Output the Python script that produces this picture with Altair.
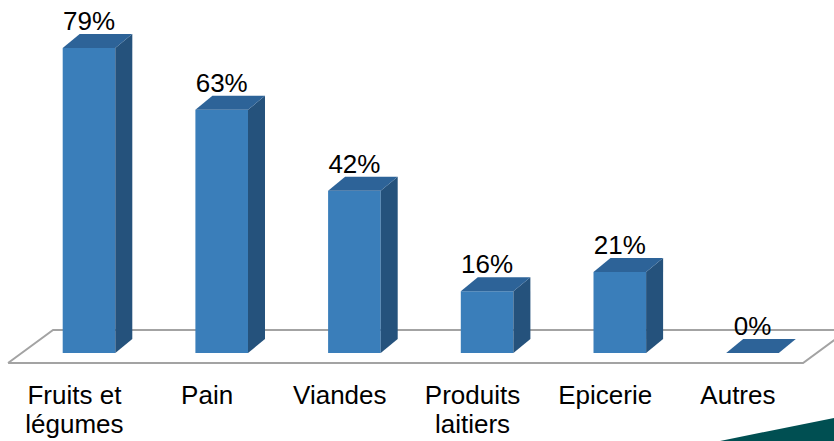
import altair as alt
import pandas as pd

# ---- data ----
categories = ["Fruits et\nlégumes", "Pain", "Viandes", "Produits\nlaitiers", "Epicerie", "Autres"]
values = [79, 63, 42, 16, 21, 0]
value_labels = ["79%", "63%", "42%", "16%", "21%", "0%"]

# ---- geometry (scale units) ----
W, H = 834, 441
PX_PER_CAT = 132.7
PX_PER_PCT = 305 / 79
X0 = 89.0      # pixel of first category's front centre
BASE = 353.0   # pixel of 0 %
x_domain = [-X0 / PX_PER_CAT, (W - X0) / PX_PER_CAT]
y_domain = [-(H - BASE) / PX_PER_PCT, BASE / PX_PER_PCT]

half = 26.3 / PX_PER_CAT
dx = 17 / PX_PER_CAT
dy = 14 / PX_PER_PCT

FRONT = "#3A7EBA"
SIDE = "#25527C"
TOP = "#2D6398"

xs = alt.Scale(domain=x_domain, nice=False, zero=False)
ys = alt.Scale(domain=y_domain, nice=False, zero=False)

front_rows, side_rows, top_rows, lab_rows = [], [], [], []
for i, (c, v, lbl) in enumerate(zip(categories, values, value_labels)):
    front_rows.append({"cat": c, "x": i - half, "x2": i + half, "y": 0, "y2": v})
    side_rows.append({"cat": c, "x": i + half, "y": 0, "y2": v})
    side_rows.append({"cat": c, "x": i + half + dx, "y": dy, "y2": v + dy})
    top_rows.append({"cat": c, "y": v, "x": i - half, "x2": i + half})
    top_rows.append({"cat": c, "y": v + dy, "x": i - half + dx, "x2": i + half + dx})
    lab_rows.append({"cat": c, "i": i, "v": v, "label": lbl})

front_df = pd.DataFrame(front_rows)
side_df = pd.DataFrame(side_rows)
top_df = pd.DataFrame(top_rows)
lab_df = pd.DataFrame(lab_rows)

# floor parallelogram (front edge below bars, back edge behind)
f_front = -10 / PX_PER_PCT
f_back = 23 / PX_PER_PCT
fl = -0.610
fr = 5.381
shift = 45 / PX_PER_CAT
floor_df = pd.DataFrame({
    "x": [fl, fr, fr + shift, fl + shift, fl],
    "y": [f_front, f_front, f_back, f_back, f_front],
    "o": [0, 1, 2, 3, 4],
})

# decorative slide triangle bottom-right
tri_df = pd.DataFrame({
    "x": [(720 - X0) / PX_PER_CAT, x_domain[1]],
    "y": [y_domain[0], y_domain[0]],
    "y2": [y_domain[0], -(418 - BASE) / PX_PER_PCT],
})

floor = alt.Chart(floor_df).mark_line(color="#A3A3A3", strokeWidth=2, clip=True).encode(
    x=alt.X("x:Q", scale=xs, axis=None),
    y=alt.Y("y:Q", scale=ys, axis=None),
    order="o:Q",
)

tri = alt.Chart(tri_df).mark_area(color="#004F52", orient="vertical", clip=True).encode(
    x=alt.X("x:Q", scale=xs, axis=None),
    y=alt.Y("y:Q", scale=ys, axis=None),
    y2="y2:Q",
)

front = alt.Chart(front_df).mark_rect(color=FRONT).encode(
    x=alt.X("x:Q", scale=xs, axis=None),
    x2="x2:Q",
    y=alt.Y("y:Q", scale=ys, axis=None),
    y2="y2:Q",
)

side = alt.Chart(side_df).mark_area(color=SIDE, orient="vertical").encode(
    x=alt.X("x:Q", scale=xs, axis=None),
    y=alt.Y("y:Q", scale=ys, axis=None),
    y2="y2:Q",
    detail="cat:N",
)

top = alt.Chart(top_df).mark_area(color=TOP, orient="horizontal").encode(
    y=alt.Y("y:Q", scale=ys, axis=None),
    x=alt.X("x:Q", scale=xs, axis=None),
    x2="x2:Q",
    detail="cat:N",
)

vlabels = alt.Chart(lab_df).mark_text(
    font="Liberation Sans", fontSize=26, color="#000000", baseline="alphabetic", dy=-18
).encode(
    x=alt.X("i:Q", scale=xs, axis=None),
    y=alt.Y("v:Q", scale=ys, axis=None),
    text="label:N",
)

clabels = alt.Chart(lab_df).transform_calculate(
    lx="datum.i - 0.11", ly="-13.2"
).mark_text(
    font="Liberation Sans", fontSize=26, color="#000000", baseline="alphabetic",
    lineBreak="\n", lineHeight=29,
).encode(
    x=alt.X("lx:Q", scale=xs, axis=None),
    y=alt.Y("ly:Q", scale=ys, axis=None),
    text="cat:N",
)

chart = alt.layer(floor, tri, front, side, top, vlabels, clabels).properties(
    width=W, height=H, padding=0, autosize=alt.AutoSizeParams(type="none"),
    background="white",
).configure_view(stroke=None)

chart.save("out.html", embed_options={"renderer": "svg", "actions": False})
